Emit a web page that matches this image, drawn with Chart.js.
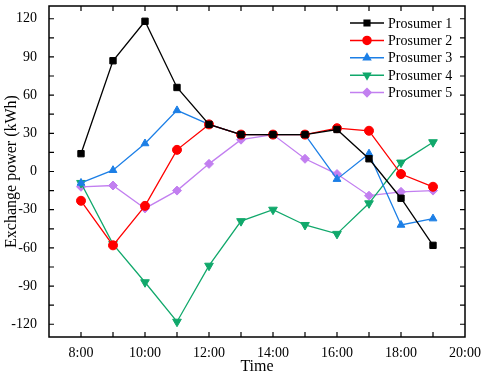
<!DOCTYPE html>
<html>
<head>
<meta charset="utf-8">
<script src="https://cdn.jsdelivr.net/npm/chart.js@4/dist/chart.umd.min.js"></script>
<style>
  body { margin: 0; background: #fff; }
  #wrap { width: 484px; height: 376px; }
</style>
</head>
<body>
<div id="wrap"><canvas id="exchange"></canvas></div>
<script>
// hours of the day, 8:00 .. 19:00
const hours = [8, 9, 10, 11, 12, 13, 14, 15, 16, 17, 18, 19]
const prosumer1 = [14, 87, 118, 66, 37, 29, 29, 29, 33, 10, -21, -58]
const prosumer2 = [-23, -58, -27, 17, 37, 29, 29, 29, 34, 32, -2, -12]
const prosumer3 = [-9, 1, 22, 48, 37, 29, 29, 29, -6, 14, -42, -37]
const prosumer4 = [-9, -57, -87, -118, -74, -39, -30, -42, -49, -25, 7, 23]
const prosumer5 = [-12, -11, -29, -15, 6, 25, 29, 10, -2, -19, -16, -15]
const names = ['Prosumer 1', 'Prosumer 2', 'Prosumer 3', 'Prosumer 4', 'Prosumer 5']
const xTickLabels = [8, 10, 12, 14, 16, 18, 20]
const yTickLabels = [-120, -90, -60, -30, 0, 30, 60, 90, 120]

const font = 'Liberation Serif'

function series(vals) {
  return hours.map((h, i) => ({ x: h, y: vals[i] }))
}

const styles = [
  { color: '#000000', point: 'rect', rot: 0, r: 4.5 },
  { color: '#ff0000', point: 'circle', rot: 0, r: 4.5 },
  { color: '#1c7fe6', point: 'triangle', rot: 0, r: 4.5 },
  { color: '#10a86b', point: 'triangle', rot: 180, r: 5 },
  { color: '#c27ff0', point: 'rectRot', rot: 0, r: 4.5 },
]

const allVals = [prosumer1, prosumer2, prosumer3, prosumer4, prosumer5]
const datasets = allVals.map((vals, i) => ({
  label: names[i],
  data: series(vals),
  borderColor: styles[i].color,
  backgroundColor: styles[i].color,
  borderWidth: 1.3,
  pointStyle: styles[i].point,
  pointRotation: styles[i].rot,
  pointRadius: styles[i].r,
  pointBorderWidth: 1,
  tension: 0,
}))

// frame with inward ticks on all four sides + legend inside the plot
const frame = {
  id: 'frame',
  afterDatasetsDraw(chart) {
    const { ctx, chartArea: a, scales } = chart
    ctx.save()
    ctx.strokeStyle = '#000'
    ctx.lineWidth = 1.5
    ctx.strokeRect(a.left, a.top, a.right - a.left, a.bottom - a.top)
    ctx.lineWidth = 1.2
    ctx.beginPath()
    for (let h = 8; h <= 19; h++) {
      const x = scales.x.getPixelForValue(h)
      ctx.moveTo(x, a.bottom); ctx.lineTo(x, a.bottom - 5)
      ctx.moveTo(x, a.top); ctx.lineTo(x, a.top + 5)
    }
    for (let v = -120; v <= 120; v += 15) {
      const y = scales.y.getPixelForValue(v)
      ctx.moveTo(a.left, y); ctx.lineTo(a.left + 5, y)
      ctx.moveTo(a.right, y); ctx.lineTo(a.right - 5, y)
    }
    ctx.stroke()

    // legend
    ctx.font = '14px "' + font + '"'
    ctx.textBaseline = 'middle'
    chart.data.datasets.forEach((ds, i) => {
      const y = a.top + 17 + i * 17.4
      const x0 = a.right - 115
      ctx.strokeStyle = ds.borderColor
      ctx.lineWidth = 1.5
      ctx.beginPath()
      ctx.moveTo(x0, y); ctx.lineTo(x0 + 34, y)
      ctx.stroke()
      ctx.fillStyle = ds.backgroundColor
      Chart.helpers.drawPoint(ctx, { pointStyle: ds.pointStyle, rotation: ds.pointRotation, radius: 4, borderWidth: 1 }, x0 + 17, y)
      ctx.fillStyle = '#000'
      ctx.fillText(ds.label, x0 + 38, y + 1)
    })
    ctx.restore()
  }
}

const ctx = document.getElementById('exchange').getContext('2d')
const exchangeChart = new Chart(ctx, {
  type: 'line',
  data: { datasets: datasets },
  options: {
    responsive: true,
    maintainAspectRatio: false,
    animation: false,
    layout: { padding: { top: 3, right: 19, left: 0, bottom: 0 } },
    plugins: {
      legend: { display: false },
      tooltip: { enabled: false },
    },
    scales: {
      x: {
        type: 'linear',
        min: 7,
        max: 20,
        afterBuildTicks: s => { s.ticks = xTickLabels.map(v => ({ value: v })) },
        afterFit: s => { s.height = 39; s.paddingLeft = 0; s.paddingRight = 0 },
        grid: { display: false, drawTicks: false, tickLength: 0 },
        border: { display: false },
        ticks: {
          color: '#000',
          font: { family: font, size: 14 },
          padding: 8,
          maxRotation: 0,
          callback: v => v + ':00',
        },
        title: {
          display: true,
          text: 'Time',
          color: '#000',
          font: { family: font, size: 16 },
          padding: { top: 0, bottom: 0 },
        },
      },
      y: {
        min: -130,
        max: 130,
        afterBuildTicks: s => { s.ticks = yTickLabels.map(v => ({ value: v })) },
        afterFit: s => { s.width = 49; s.paddingTop = 0; s.paddingBottom = 0 },
        grid: { display: false, drawTicks: false, tickLength: 0 },
        border: { display: false },
        ticks: {
          color: '#000',
          font: { family: font, size: 14 },
          padding: 12,
        },
        title: {
          display: true,
          text: 'Exchange power (kWh)',
          color: '#000',
          font: { family: font, size: 16 },
          padding: { top: 2, bottom: 0 },
        },
      },
    },
  },
  plugins: [frame],
})
</script>
</body>
</html>
